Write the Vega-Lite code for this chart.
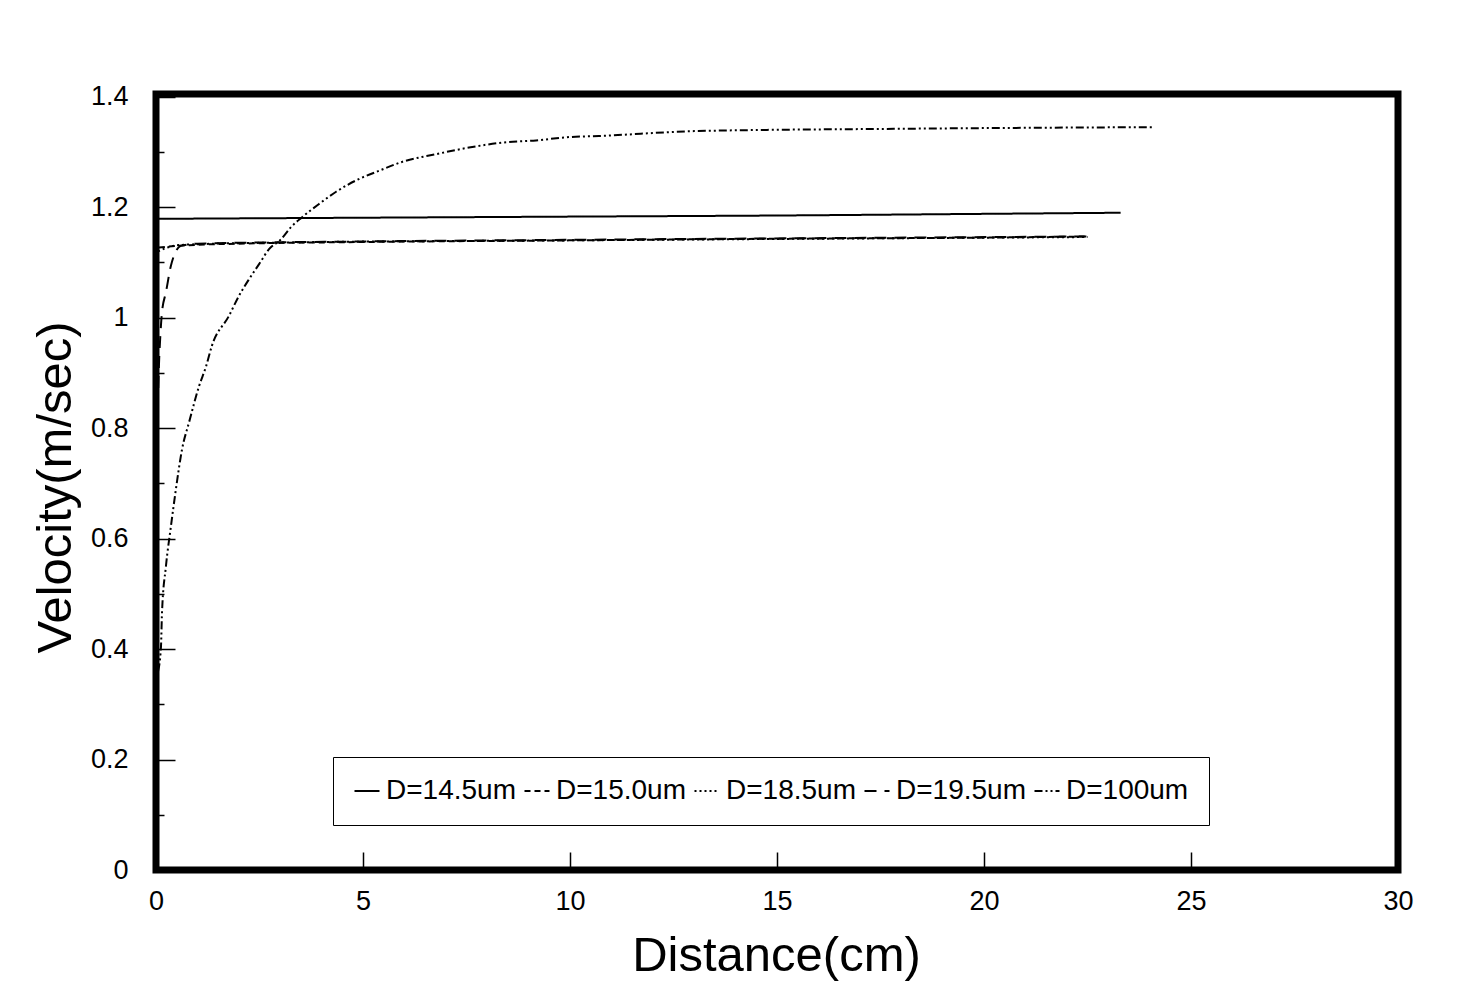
{
  "$schema": "https://vega.github.io/schema/vega-lite/v6.json",
  "width": 1242,
  "height": 776,
  "autosize": {"type": "none"},
  "padding": {"left": 156, "top": 94, "right": 70, "bottom": 136},
  "background": "white",
  "config": {
    "font": "Liberation Sans",
    "view": {"stroke": "black", "strokeWidth": 7},
    "axis": {"grid": false, "domain": false, "tickColor": "black", "labelColor": "black", "titleColor": "black", "titleFontWeight": "normal"}
  },
  "data": {
    "values": [
      {"series": "D=14.5um", "x": 0.0, "v": 1.179},
      {"series": "D=14.5um", "x": 5, "v": 1.181},
      {"series": "D=14.5um", "x": 10, "v": 1.183},
      {"series": "D=14.5um", "x": 15, "v": 1.185},
      {"series": "D=14.5um", "x": 20, "v": 1.188},
      {"series": "D=14.5um", "x": 23.3, "v": 1.19},

      {"series": "D=15.0um", "x": 0.07, "v": 1.127},
      {"series": "D=15.0um", "x": 0.5, "v": 1.13},
      {"series": "D=15.0um", "x": 1, "v": 1.132},
      {"series": "D=15.0um", "x": 2, "v": 1.134},
      {"series": "D=15.0um", "x": 5, "v": 1.137},
      {"series": "D=15.0um", "x": 10, "v": 1.14},
      {"series": "D=15.0um", "x": 15, "v": 1.143},
      {"series": "D=15.0um", "x": 20, "v": 1.145},
      {"series": "D=15.0um", "x": 22.5, "v": 1.147},

      {"series": "D=18.5um", "x": 0.05, "v": 1.12},
      {"series": "D=18.5um", "x": 0.5, "v": 1.131},
      {"series": "D=18.5um", "x": 1, "v": 1.133},
      {"series": "D=18.5um", "x": 3, "v": 1.136},
      {"series": "D=18.5um", "x": 10, "v": 1.14},
      {"series": "D=18.5um", "x": 22.5, "v": 1.146},

      {"series": "D=19.5um", "x": 0.03, "v": 0.8},
      {"series": "D=19.5um", "x": 0.07, "v": 0.912},
      {"series": "D=19.5um", "x": 0.1, "v": 0.961},
      {"series": "D=19.5um", "x": 0.145, "v": 1.01},
      {"series": "D=19.5um", "x": 0.24, "v": 1.046},
      {"series": "D=19.5um", "x": 0.36, "v": 1.094},
      {"series": "D=19.5um", "x": 0.6, "v": 1.13},
      {"series": "D=19.5um", "x": 1, "v": 1.134},
      {"series": "D=19.5um", "x": 5, "v": 1.138},
      {"series": "D=19.5um", "x": 10, "v": 1.141},
      {"series": "D=19.5um", "x": 22.5, "v": 1.147},

      {"series": "D=100um", "x": 0.05, "v": 0.36},
      {"series": "D=100um", "x": 0.12, "v": 0.404},
      {"series": "D=100um", "x": 0.145, "v": 0.466},
      {"series": "D=100um", "x": 0.24, "v": 0.55},
      {"series": "D=100um", "x": 0.36, "v": 0.622},
      {"series": "D=100um", "x": 0.48, "v": 0.689},
      {"series": "D=100um", "x": 0.63, "v": 0.762},
      {"series": "D=100um", "x": 0.8, "v": 0.811},
      {"series": "D=100um", "x": 1.04, "v": 0.876},
      {"series": "D=100um", "x": 1.21, "v": 0.912},
      {"series": "D=100um", "x": 1.35, "v": 0.949},
      {"series": "D=100um", "x": 1.76, "v": 1.003},
      {"series": "D=100um", "x": 2.0, "v": 1.039},
      {"series": "D=100um", "x": 2.25, "v": 1.07},
      {"series": "D=100um", "x": 2.49, "v": 1.097},
      {"series": "D=100um", "x": 2.73, "v": 1.124},
      {"series": "D=100um", "x": 3.02, "v": 1.142},
      {"series": "D=100um", "x": 3.26, "v": 1.164},
      {"series": "D=100um", "x": 3.53, "v": 1.182},
      {"series": "D=100um", "x": 3.94, "v": 1.206},
      {"series": "D=100um", "x": 4.35, "v": 1.228},
      {"series": "D=100um", "x": 4.9, "v": 1.251},
      {"series": "D=100um", "x": 5.39, "v": 1.266},
      {"series": "D=100um", "x": 5.94, "v": 1.282},
      {"series": "D=100um", "x": 6.76, "v": 1.296},
      {"series": "D=100um", "x": 7.56, "v": 1.308},
      {"series": "D=100um", "x": 8.36, "v": 1.317},
      {"series": "D=100um", "x": 9.18, "v": 1.321},
      {"series": "D=100um", "x": 9.98, "v": 1.327},
      {"series": "D=100um", "x": 10.7, "v": 1.329},
      {"series": "D=100um", "x": 13.1, "v": 1.338},
      {"series": "D=100um", "x": 17.9, "v": 1.342},
      {"series": "D=100um", "x": 24.06, "v": 1.345}
    ]
  },
  "mark": {"type": "line", "color": "black", "strokeWidth": 2, "interpolate": "monotone"},
  "encoding": {
    "x": {
      "field": "x", "type": "quantitative",
      "scale": {"domain": [0, 30], "nice": false},
      "axis": {
        "values": [0, 5, 10, 15, 20, 25, 30],
        "tickSize": -18, "tickWidth": 1.5,
        "labelFontSize": 27, "labelPadding": 36, "labelBaseline": "top", "labelFlush": false,
        "title": "Distance(cm)", "titleFontSize": 49,
        "titleX": 620, "titleY": 100, "titleBaseline": "alphabetic", "titleAnchor": "middle"
      }
    },
    "y": {
      "field": "v", "type": "quantitative",
      "scale": {"domain": [0, 1.405], "nice": false},
      "axis": {
        "values": [0, 0.1, 0.2, 0.3, 0.4, 0.5, 0.6, 0.7, 0.8, 0.9, 1.0, 1.1, 1.2, 1.3, 1.4],
        "tickSize": {"condition": {"test": "round(datum.value*10) % 2 == 0", "value": -19}, "value": -8},
        "tickWidth": 1.5,
        "labelExpr": "round(datum.value*10) % 2 == 0 ? format(datum.value, '~g') : ''",
        "labelFontSize": 27, "labelPadding": 47, "labelFlush": false,
        "title": "Velocity(m/sec)", "titleFontSize": 49,
        "titleX": -86, "titleY": 393, "titleBaseline": "alphabetic", "titleAngle": -90, "titleAnchor": "middle"
      }
    },
    "strokeDash": {
      "field": "series", "type": "nominal",
      "scale": {
        "domain": ["D=14.5um", "D=15.0um", "D=18.5um", "D=19.5um", "D=100um"],
        "range": [[1, 0], [6, 4], [2, 3], [12, 8], [8, 3, 2, 3, 2, 3]]
      },
      "legend": {
        "orient": "none", "legendX": 177, "legendY": 663,
        "direction": "horizontal", "columns": 5,
        "title": null,
        "strokeColor": "black", "padding": 20, "fillColor": "white",
        "symbolType": "stroke", "symbolSize": 625, "symbolStrokeWidth": 2, "symbolStrokeColor": "black",
        "labelFontSize": 28, "labelColor": "black", "labelOffset": 5,
        "columnPadding": 4, "labelLimit": 300
      }
    }
  }
}
